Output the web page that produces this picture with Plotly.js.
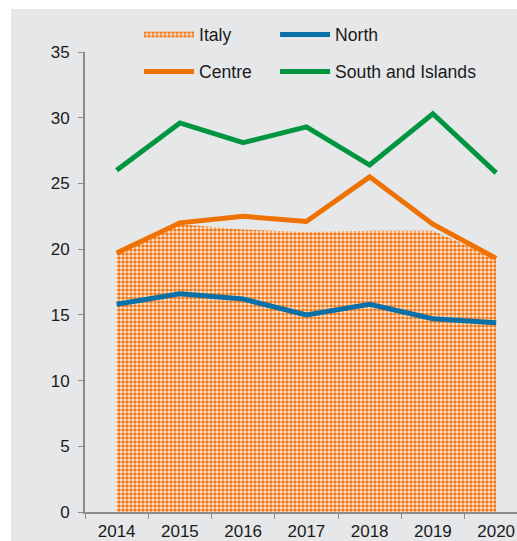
<!DOCTYPE html>
<html>
<head>
<meta charset="utf-8">
<script src="https://cdn.plot.ly/plotly-3.0.1.min.js"></script>
<style>
html,body{margin:0;padding:0;background:#ffffff;}
#chart{position:absolute;left:11px;top:9px;width:506px;height:532px;}
</style>
</head>
<body>
<div id="chart"></div>
<script>
const years = ["2014","2015","2016","2017","2018","2019","2020"];
const italy = [19.8, 21.9, 21.5, 21.3, 21.4, 21.4, 19.3];
const north = [15.8, 16.6, 16.2, 15.0, 15.8, 14.7, 14.4];
const centre = [19.7, 22.0, 22.5, 22.1, 25.5, 21.9, 19.3];
const south = [26.0, 29.6, 28.1, 29.3, 26.4, 30.3, 25.8];
const yTicks = [0, 5, 10, 15, 20, 25, 30, 35];

const font = {family: '"Liberation Sans", Arial, sans-serif', size: 17, color: '#1a1a1a'};
const legendFont = {family: '"Liberation Sans", Arial, sans-serif', size: 17.6, color: '#1a1a1a'};

const traces = [
  {x: years, y: italy, name: 'Italy', type: 'scatter', mode: 'none', fill: 'tozeroy',
   fillcolor: '#f6b98a',
   fillpattern: {shape: '.', fgcolor: '#ef7818', bgcolor: '#fcefe3', size: 4, solidity: 0.65},
   legend: 'legend', legendgroup: 'a', hoverinfo: 'skip'},
  {x: years, y: north, name: 'North', type: 'scatter', mode: 'lines',
   line: {color: '#0a71a8', width: 5}, legend: 'legend2', legendgroup: 'b'},
  {x: years, y: centre, name: 'Centre', type: 'scatter', mode: 'lines',
   line: {color: '#ee7203', width: 5}, legend: 'legend', legendgroup: 'c'},
  {x: years, y: south, name: 'South and Islands', type: 'scatter', mode: 'lines',
   line: {color: '#009640', width: 5}, legend: 'legend2', legendgroup: 'd'}
];

const legendCommon = {
  orientation: 'v', bgcolor: 'rgba(0,0,0,0)', font: legendFont,
  itemwidth: 50, tracegroupgap: 11, yanchor: 'top', xanchor: 'left', traceorder: 'grouped'
};

const layout = {
  width: 506, height: 532,
  paper_bgcolor: '#e6e7e9', plot_bgcolor: '#e6e7e9',
  margin: {l: 74, r: 0, t: 43, b: 29, pad: 0},
  font: font,
  showlegend: true,
  xaxis: {
    type: 'category', range: [-0.5, 6.33], tickson: 'boundaries',
    ticks: 'outside', ticklen: 5, tickcolor: '#8c8c8c', tickwidth: 1,
    showline: true, linecolor: '#8c8c8c', linewidth: 2, ticklabelstandoff: 3,
    showgrid: false, zeroline: false, tickfont: font, fixedrange: true
  },
  yaxis: {
    range: [0, 35], tickvals: yTicks, ticktext: yTicks.map(String),
    ticks: 'outside', ticklen: 5, tickcolor: '#8c8c8c', tickwidth: 1,
    showline: true, linecolor: '#8c8c8c', linewidth: 2, ticklabelstandoff: 5,
    showgrid: false, zeroline: false, tickfont: font, fixedrange: true
  },
  legend: Object.assign({}, legendCommon, {x: 0.125, y: 1.077}),
  legend2: Object.assign({}, legendCommon, {x: 0.44, y: 1.077})
};

Plotly.newPlot('chart', traces, layout, {displayModeBar: false, staticPlot: true});
</script>
</body>
</html>
